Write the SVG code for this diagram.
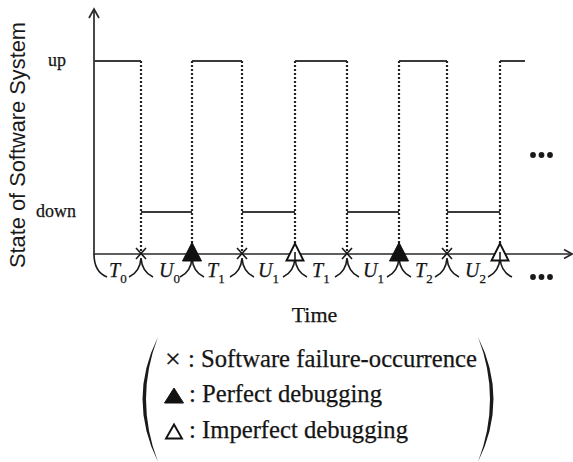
<svg xmlns="http://www.w3.org/2000/svg" width="573" height="462" viewBox="0 0 573 462">
  <style>
    .axis { fill: none; stroke: #2a2a2a; stroke-width: 1.7; }
    .level { fill: none; stroke: #3a3a3a; stroke-width: 1.8; }
    .drop { fill: none; stroke: #222; stroke-width: 2.2; stroke-dasharray: 2 2; }
    .brace { fill: none; stroke: #1a1a1a; stroke-width: 1.6; }
    .fail { fill: none; stroke: #1a1a1a; stroke-width: 1.6; }
    .perfect { fill: #111; stroke: #111; stroke-width: 1; stroke-linejoin: miter; }
    .imperfect { fill: #fff; stroke: #111; stroke-width: 1.9; stroke-linejoin: miter; }
    .serif { font-family: "Liberation Serif", "Times New Roman", serif; fill: #151515; stroke: #151515; stroke-width: 0.25; }
    .sans { font-family: "Liberation Sans", Arial, sans-serif; fill: #1a1a1a; }
    .iv { font-family: "Liberation Serif", "Times New Roman", serif; font-style: italic; font-size: 20px; fill: #151515; stroke: #151515; stroke-width: 0.25; }
    .sub { font-size: 13px; font-style: normal; }
    .dot { fill: #1a1a1a; }
    .paren { fill: #1a1a1a; }
  </style>

  <!-- axes -->
  <g id="axes">
    <path class="axis" d="M94,9 V254 H571"/>
    <path class="axis" d="M89,18 L94,9 L99,18"/>
    <path class="axis" d="M564,249.5 L572,254 L564,258.5"/>
    <text class="sans" font-size="21.5" text-anchor="middle" transform="translate(25,145) rotate(-90)" textLength="246" lengthAdjust="spacingAndGlyphs">State of Software System</text>
    <text class="serif" font-size="18" text-anchor="middle" x="57" y="66">up</text>
    <text class="serif" font-size="18" text-anchor="middle" x="56" y="217">down</text>
    <text class="serif" font-size="22" text-anchor="middle" x="314.5" y="322">Time</text>
  </g>

  <!-- system state trace -->
  <g id="connectors">
    <path class="level" d="M94,61 H141 M192,61 H242 M295,61 H347 M399,61 H447 M500,61 H525"/>
    <path class="level" d="M141,212 H192 M242,212 H295 M347,212 H399 M447,212 H500"/>
    <path class="drop" d="M141,61 V253 M192,61 V253 M242,61 V253 M295,61 V253 M347,61 V253 M399,61 V253 M447,61 V253 M500,61 V253"/>
    <!-- interval braces -->
    <path class="brace" d="M94,254 Q94,272 107,277"/>
    <path class="brace" d="M141,258 Q140,272 129,277 M141,258 Q142,272 153,277"/>
    <path class="brace" d="M192,258 Q191,272 180,277 M192,258 Q193,272 204,277"/>
    <path class="brace" d="M242,258 Q241,272 230,277 M242,258 Q243,272 254,277"/>
    <path class="brace" d="M295,258 Q294,272 283,277 M295,258 Q296,272 307,277"/>
    <path class="brace" d="M347,258 Q346,272 335,277 M347,258 Q348,272 359,277"/>
    <path class="brace" d="M399,258 Q398,272 387,277 M399,258 Q400,272 411,277"/>
    <path class="brace" d="M447,258 Q446,272 435,277 M447,258 Q448,272 459,277"/>
    <path class="brace" d="M500,258 Q499,272 488,277 M500,258 Q501,272 512,277"/>
  </g>

  <!-- events on the time axis -->
  <g id="event-failure-1"><path class="fail" d="M136,248 L146,259 M146,248 L136,259"/></g>
  <g id="event-perfect-1"><polygon class="perfect" points="192,242.5 182.5,261 201.5,261"/></g>
  <g id="event-failure-2"><path class="fail" d="M237,248 L247,259 M247,248 L237,259"/></g>
  <g id="event-imperfect-1"><polygon class="imperfect" points="295,243.5 286.5,260.5 303.5,260.5"/><path class="brace" d="M295,252 V260"/></g>
  <g id="event-failure-3"><path class="fail" d="M342,248 L352,259 M352,248 L342,259"/></g>
  <g id="event-perfect-2"><polygon class="perfect" points="399,242.5 389.5,261 408.5,261"/></g>
  <g id="event-failure-4"><path class="fail" d="M442,248 L452,259 M452,248 L442,259"/></g>
  <g id="event-imperfect-2"><polygon class="imperfect" points="500,243.5 491.5,260.5 508.5,260.5"/><path class="brace" d="M500,252 V260"/></g>

  <!-- interval labels -->
  <g id="intervals">
    <text class="iv" x="109" y="277">T<tspan class="sub" dy="6">0</tspan></text>
    <text class="iv" x="159" y="277">U<tspan class="sub" dy="6">0</tspan></text>
    <text class="iv" x="207" y="277">T<tspan class="sub" dy="6">1</tspan></text>
    <text class="iv" x="258" y="277">U<tspan class="sub" dy="6">1</tspan></text>
    <text class="iv" x="312" y="277">T<tspan class="sub" dy="6">1</tspan></text>
    <text class="iv" x="363" y="277">U<tspan class="sub" dy="6">1</tspan></text>
    <text class="iv" x="415" y="277">T<tspan class="sub" dy="6">2</tspan></text>
    <text class="iv" x="465" y="277">U<tspan class="sub" dy="6">2</tspan></text>
  </g>

  <!-- continuation marks -->
  <g id="ellipsis-top">
    <circle class="dot" cx="533" cy="155" r="2.9"/>
    <circle class="dot" cx="541.5" cy="155" r="2.9"/>
    <circle class="dot" cx="550" cy="155" r="2.9"/>
  </g>
  <g id="ellipsis-bottom">
    <circle class="dot" cx="533" cy="277" r="2.9"/>
    <circle class="dot" cx="541.5" cy="277" r="2.9"/>
    <circle class="dot" cx="550" cy="277" r="2.9"/>
  </g>

  <!-- legend -->
  <g id="legend">
    <path class="paren" d="M158,337 Q127,399 158,462 Q134,399 158,337 Z"/>
    <path class="paren" d="M478,337 Q509,399 478,462 Q502,399 478,337 Z"/>
    <text class="serif" font-size="28" x="165" y="368">×</text>
    <text class="serif" font-size="25" x="188" y="367" textLength="289" lengthAdjust="spacingAndGlyphs">: Software failure-occurrence</text>
    <polygon class="perfect" points="174,388 164.5,403 183.5,403"/>
    <text class="serif" font-size="25" x="189" y="402" textLength="193" lengthAdjust="spacingAndGlyphs">: Perfect debugging</text>
    <polygon class="imperfect" points="174,424.5 166,438.5 182,438.5"/>
    <text class="serif" font-size="25" x="189" y="438" textLength="219" lengthAdjust="spacingAndGlyphs">: Imperfect debugging</text>
  </g>
</svg>
